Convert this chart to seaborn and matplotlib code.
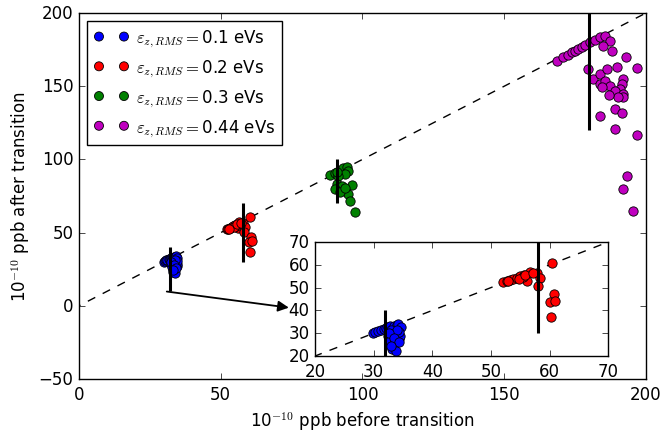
import numpy as np
import pandas as pd
import matplotlib
matplotlib.use('Agg')
import matplotlib.pyplot as plt
import seaborn as sns
from matplotlib.collections import PathCollection
from matplotlib.legend_handler import HandlerPathCollection

plt.style.use('classic')
plt.rcParams['mathtext.fontset'] = 'cm'
plt.rcParams['font.size'] = 12

# emittance groups
labels = ['0.1', '0.2', '0.3', '0.44']
colors = ['b', 'r', 'g', 'm']

blue_x = [29.9, 30.3, 30.8, 31.2, 31.7, 32.1, 32.5, 32.8, 33.4, 33.9, 34.2, 34.6, 34.4, 34.5,
          33.7, 32.5, 32.8, 33.4, 33.1, 33.8, 34.4, 32.9, 33.2, 34.0, 32.6, 33.5, 34.3, 33.0]
blue_y = [29.9, 30.4, 31.1, 31.5, 31.8, 32.2, 32.6, 33.0, 33.3, 33.6, 34.0, 32.6, 27.5, 28.9,
          29.6, 28.9, 26.7, 25.3, 23.1, 22.3, 30.5, 31.2, 29.8, 31.5, 30.0, 27.8, 26.0, 24.5]

red_x = [52.1, 52.7, 53.3, 53.8, 54.4, 55.0, 55.7, 56.6, 57.8, 56.1, 55.4, 58.4, 58.1, 60.5,
         60.8, 60.1, 61.0, 60.2, 54.8, 55.9, 57.2, 53.0]
red_y = [52.3, 52.8, 53.3, 53.8, 54.3, 55.0, 55.5, 57.0, 56.5, 53.0, 54.5, 54.1, 50.6, 60.7,
         47.2, 43.5, 44.3, 37.0, 54.0, 55.6, 56.5, 52.7]

green_x = [88.5, 90.3, 92.1, 93.2, 94.4, 95.0, 93.8, 91.5, 90.9, 92.7, 93.8, 90.3, 96.2, 95.0,
           95.6, 97.4, 92.1, 91.0, 94.0]
green_y = [89.3, 90.7, 92.3, 93.9, 94.6, 92.3, 90.0, 88.9, 83.2, 82.0, 78.6, 79.8, 82.5, 76.4,
           71.8, 63.8, 77.5, 91.5, 80.5]

mag_x = [168.5, 170.8, 172.5, 173.8, 175.0, 176.1, 177.3, 178.5, 180.2, 182.0, 183.8, 185.5,
         187.3, 185.0, 187.9, 179.6, 181.2, 183.8, 186.1, 189.7, 193.0, 196.7, 183.8, 185.5,
         187.3, 184.4, 192.0, 191.4, 190.8, 189.1, 191.8, 192.0, 190.2, 187.1, 189.1, 191.4,
         183.8, 189.1, 196.7, 193.2, 192.0, 195.5]
mag_y = [167.4, 169.7, 171.5, 173.1, 174.2, 175.4, 176.7, 178.1, 180.0, 181.8, 183.3, 184.5,
         181.1, 177.2, 174.3, 161.7, 154.9, 158.3, 161.7, 162.8, 169.7, 162.1, 151.5, 153.7,
         150.4, 149.2, 154.9, 151.5, 148.1, 146.9, 144.6, 142.4, 142.4, 144.0, 134.4, 131.7,
         129.9, 120.8, 116.8, 88.9, 79.8, 65.0]

# reference markers (vertical bars)
bar_x = [32, 58, 91, 180]
bar_lo = [10, 30, 70, 120]
bar_hi = [40, 70, 100, 200]

groups = [(blue_x, blue_y), (red_x, red_y), (green_x, green_y), (mag_x, mag_y)]
frames = []
for lab, (gx, gy) in zip(labels, groups):
    frames.append(pd.DataFrame({'before': gx, 'after': gy, 'eps': lab}))
df = pd.concat(frames, ignore_index=True)

fig = plt.figure(figsize=(6.62, 4.35), dpi=100, facecolor='white')
ax = fig.add_axes([0.1193, 0.1264, 0.8565, 0.8414])


def draw(a, legend=False):
    a.plot([-50, 250], [-50, 250], 'k--', lw=1, zorder=1)
    for lab, c in zip(labels, colors):
        sub = df[df.eps == lab]
        sns.scatterplot(data=sub, x='before', y='after', color=c, s=45,
                        edgecolor='k', linewidth=0.6, ax=a, zorder=2,
                        label=r'$\varepsilon_{z,RMS}=$' + lab + ' eVs' if legend else None)
    a.vlines(bar_x, bar_lo, bar_hi, colors='k', lw=2.2, zorder=3)


draw(ax, legend=True)
ax.set_xlim(0, 200)
ax.set_ylim(-50, 200)
ax.set_xticks([0, 50, 100, 150, 200])
ax.set_yticks([-50, 0, 50, 100, 150, 200])
ax.set_xlabel(r'10$^{-10}$ ppb before transition', fontsize=12)
ax.set_ylabel(r'10$^{-10}$ ppb after transition', fontsize=12)
ax.tick_params(labelsize=12)
ax.legend(loc='upper left', scatterpoints=2, scatteryoffsets=[0.5], fontsize=12,
          frameon=True, borderaxespad=0.5, handletextpad=0.4, handlelength=2.1,
          handler_map={PathCollection: HandlerPathCollection(sizes=[42, 42])})

ax.annotate('', xy=(75, -1.5), xytext=(30, 10),
            arrowprops=dict(arrowstyle='-|>', color='k', lw=1.3, mutation_scale=16))

# inset zoom on first two groups
axin = fig.add_axes([0.476, 0.1793, 0.4426, 0.262])
draw(axin)
axin.set_xlim(20, 70)
axin.set_ylim(20, 70)
axin.set_xticks([20, 30, 40, 50, 60, 70])
axin.set_yticks([20, 30, 40, 50, 60, 70])
axin.set_xlabel('')
axin.set_ylabel('')
axin.tick_params(labelsize=12)

fig.savefig('out.png', dpi=100, facecolor='white')
